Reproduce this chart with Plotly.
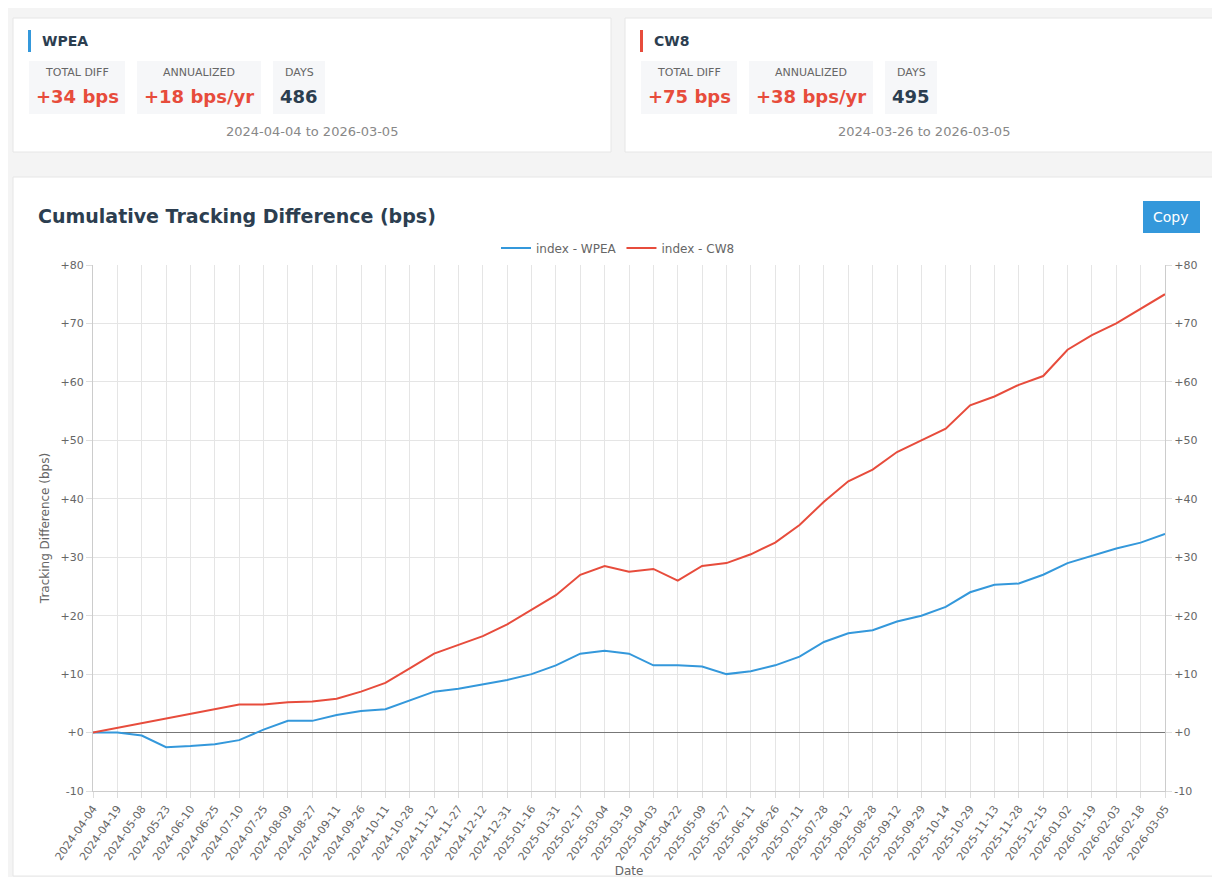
import plotly.graph_objects as go

dates = ["2024-04-04", "2024-04-19", "2024-05-08", "2024-05-23", "2024-06-10", "2024-06-25",
         "2024-07-10", "2024-07-25", "2024-08-09", "2024-08-27", "2024-09-11", "2024-09-26",
         "2024-10-11", "2024-10-28", "2024-11-12", "2024-11-27", "2024-12-12", "2024-12-31",
         "2025-01-16", "2025-01-31", "2025-02-17", "2025-03-04", "2025-03-19", "2025-04-03",
         "2025-04-22", "2025-05-09", "2025-05-27", "2025-06-11", "2025-06-26", "2025-07-11",
         "2025-07-28", "2025-08-12", "2025-08-28", "2025-09-12", "2025-09-29", "2025-10-14",
         "2025-10-29", "2025-11-13", "2025-11-28", "2025-12-15", "2026-01-02", "2026-01-19",
         "2026-02-03", "2026-02-18", "2026-03-05"]
wpea = [0, 0, -0.5, -2.5, -2.3, -2.0, -1.3, 0.5, 2.0, 2.0, 3.0, 3.7, 4.0, 5.5, 7.0, 7.5, 8.3,
        9.0, 10.0, 11.5, 13.5, 14.0, 13.5, 11.5, 11.5, 11.3, 10.0, 10.5, 11.5, 13.0, 15.5, 17.0,
        17.5, 19.0, 20.0, 21.5, 24.0, 25.3, 25.5, 27.0, 29.0, 30.3, 31.5, 32.5, 34.0]
cw8 = [0, 0.8, 1.7, 2.5, 3.2, 4.0, 4.8, 4.8, 5.2, 5.3, 5.8, 7.0, 8.5, 11.0, 13.5, 15.0, 16.5,
       18.5, 21.0, 23.5, 27.0, 28.5, 27.5, 28.0, 26.0, 28.5, 29.0, 30.5, 32.5, 35.5, 39.5, 43.0,
       45.0, 48.0, 50.0, 52.0, 56.0, 57.5, 59.5, 61.0, 65.5, 68.0, 70.0, 72.5, 75.0]
y_ticks = [-10, 0, 10, 20, 30, 40, 50, 60, 70, 80]
y_labels = ["-10", "+0", "+10", "+20", "+30", "+40", "+50", "+60", "+70", "+80"]

W, H = 1220, 877
BLUE, RED, DARK = "#3498db", "#e74c3c", "#2c3e50"


def px(x):
    return x / W


def py(y):
    return 1 - y / H


fig = go.Figure()
fig.add_trace(go.Scatter(x=dates, y=wpea, mode="lines", name="index - WPEA",
                         line=dict(color=BLUE, width=2)))
fig.add_trace(go.Scatter(x=dates, y=cw8, mode="lines", name="index - CW8",
                         line=dict(color=RED, width=2)))
fig.add_trace(go.Scatter(x=dates, y=cw8, yaxis="y2", showlegend=False, hoverinfo="skip",
                         line=dict(width=0), opacity=0))

shapes, ann = [], []


def rect(x0, y0, x1, y1, color, line=None):
    shapes.append(dict(type="rect", xref="paper", yref="paper", x0=px(x0), x1=px(x1),
                       y0=py(y1), y1=py(y0), fillcolor=color, layer="below",
                       line=dict(width=1 if line else 0, color=line or color)))


def text(x, y, s, size, color, bold=False, xanchor="center"):
    ann.append(dict(xref="paper", yref="paper", x=px(x), y=py(y), text=f"<b>{s}</b>" if bold else s,
                    showarrow=False, xanchor=xanchor, yanchor="middle",
                    font=dict(size=size, color=color)))


cards = [("WPEA", BLUE, "+34 bps", "+18 bps/yr", "486", "2024-04-04 to 2026-03-05"),
         ("CW8", RED, "+75 bps", "+38 bps/yr", "495", "2024-03-26 to 2026-03-05")]
for i, (name, col, total, ann_v, days, rng) in enumerate(cards):
    o = i * 612
    rect(5 + o, 10, 603 + o, 144, "white", "#e6e6e6")
    rect(20 + o, 22, 23 + o, 44, col)
    text(32 + o, 33, name, 14, DARK, True, "left")
    for (x0, x1, lab, val, vc) in [(21, 117, "TOTAL DIFF", total, RED),
                                   (129, 253, "ANNUALIZED", ann_v, RED),
                                   (265, 317, "DAYS", days, DARK)]:
        rect(x0 + o, 53, x1 + o, 106, "#f6f7f9")
        text((x0 + x1) / 2 + o, 65, lab, 11, "#666")
        text((x0 + x1) / 2 + o, 88, val, 18, vc, True)
    text(304 + o, 123, rng, 13, "#888")

rect(5, 169, 1215, 868, "white", "#e6e6e6")
text(28, 208, "Cumulative Tracking Difference (bps)", 19, DARK, True, "left")
rect(1135, 193, 1192, 225, BLUE)
text(1163, 209, "Copy", 14, "white")

axis_common = dict(range=[-10, 80], tickvals=y_ticks, ticktext=y_labels, gridcolor="#e5e5e5",
                   tickfont=dict(size=11, color="#666"), ticks="outside", ticklen=6,
                   tickcolor="#ddd", domain=[py(783), py(257)], zeroline=True,
                   zerolinecolor="#777", zerolinewidth=1, linecolor="#ccc", showline=True,
                   automargin=False)

fig.update_layout(
    width=W, height=H, margin=dict(l=0, r=0, t=0, b=0, autoexpand=False),
    paper_bgcolor="#f4f4f4", plot_bgcolor="white",
    font=dict(family="DejaVu Sans, sans-serif"),
    shapes=shapes, annotations=ann,
    xaxis=dict(type="category", domain=[px(85), px(1157)], tickangle=-55, automargin=False,
               tickfont=dict(size=11, color="#666"), gridcolor="#e5e5e5", showgrid=True,
               ticks="outside", ticklen=6, tickcolor="#ddd", showline=True, linecolor="#ccc",
               title=dict(text="Date", font=dict(size=12, color="#666"), standoff=4)),
    yaxis=dict(title=dict(text="Tracking Difference (bps)", font=dict(size=12, color="#666"),
                          standoff=8),
               **axis_common),
    yaxis2=dict(overlaying="y", side="right", showgrid=False,
                **{k: v for k, v in axis_common.items() if k != "gridcolor"}),
    legend=dict(orientation="h", x=0.5, xanchor="center", y=py(240), yanchor="middle",
                font=dict(size=12, color="#666"), bgcolor="rgba(0,0,0,0)"),
    showlegend=True,
)

fig.write_html("out.html")
